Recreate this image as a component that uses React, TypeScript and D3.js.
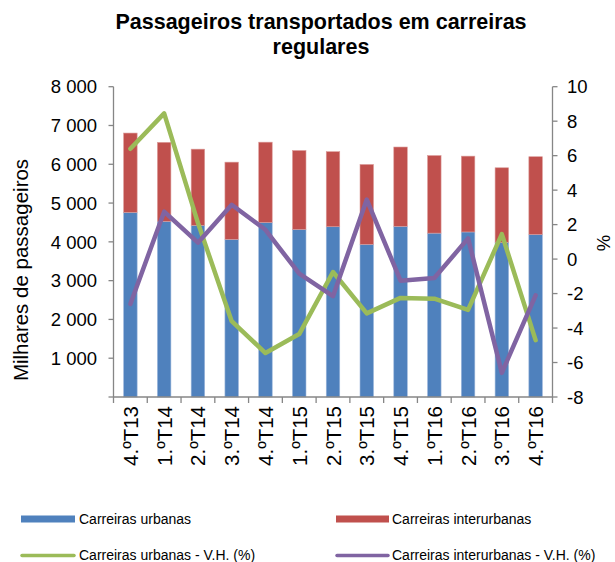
import React from "react";
import * as d3 from "d3";

const categories = ["4.ºT13", "1.ºT14", "2.ºT14", "3.ºT14", "4.ºT14", "1.ºT15", "2.ºT15", "3.ºT15", "4.ºT15", "1.ºT16", "2.ºT16", "3.ºT16", "4.ºT16"];
const urbanas = [4760, 4530, 4425, 4065, 4500, 4320, 4390, 3935, 4400, 4225, 4255, 3985, 4190];
const interurbanas = [2045, 2035, 1965, 1990, 2070, 2035, 1935, 2060, 2045, 2000, 1955, 1925, 2005];
const vhUrbanas = [6.4, 8.45, 2.1, -3.6, -5.45, -4.35, -0.75, -3.15, -2.25, -2.3, -2.95, 1.45, -4.7];
const vhInterurbanas = [-2.6, 2.75, 0.95, 3.15, 1.7, -0.85, -2.15, 3.45, -1.25, -1.1, 1.2, -6.6, -2.1];
const leftTicks = [0, 1000, 2000, 3000, 4000, 5000, 6000, 7000, 8000];
const rightTicks = [-8, -6, -4, -2, 0, 2, 4, 6, 8, 10];

const W = 615, H = 562;
const X0 = 113.5, X1 = 552.5, YT = 86.7, YB = 397;
const C_BLUE = "#4F81BD", C_RED = "#C0504D", C_GREEN = "#9BBB59", C_PURPLE = "#8064A2", C_AXIS = "#868686";
const FONT = "'Liberation Sans', Arial, sans-serif";

export default function App() {
  const x = d3.scaleBand<string>().domain(categories).range([X0, X1]).paddingInner(0.6).paddingOuter(0.3);
  const yL = d3.scaleLinear().domain([0, 8000]).range([YB, YT]);
  const yR = d3.scaleLinear().domain([-8, 10]).range([YB, YT]);
  const step = x.step();
  const cx = (c: string) => (x(c) as number) + x.bandwidth() / 2;
  const lineGen = (vals: number[]) =>
    d3.line<number>().x((_, i) => cx(categories[i])).y((v) => yR(v))(vals) as string;
  const fmt = (v: number) => (v === 0 ? "" : d3.format(",")(v).replace(/,/g, " "));

  return (
    <svg width={W} height={H} style={{ position: "absolute", left: 0, top: 0, background: "#fff" }} fontFamily={FONT}>
      <text x={321} y={29} textAnchor="middle" fontSize={21.5} fontWeight="bold" fill="#000">Passageiros transportados em carreiras</text>
      <text x={321} y={54} textAnchor="middle" fontSize={21.5} fontWeight="bold" fill="#000">regulares</text>

      {/* bars */}
      {categories.map((c, i) => (
        <g key={c}>
          <rect x={x(c)} y={yL(urbanas[i])} width={x.bandwidth()} height={YB - yL(urbanas[i])} fill={C_BLUE} stroke="#9db7dc" strokeWidth={0.6} />
          <rect x={x(c)} y={yL(urbanas[i] + interurbanas[i])} width={x.bandwidth()} height={yL(urbanas[i]) - yL(urbanas[i] + interurbanas[i])} fill={C_RED} stroke="#dc9c9a" strokeWidth={0.6} />
        </g>
      ))}

      {/* axes */}
      <g stroke={C_AXIS} strokeWidth={1.3} fill="none">
        <line x1={X0} y1={YT} x2={X0} y2={YB} />
        <line x1={X1} y1={YT} x2={X1} y2={YB} />
        <line x1={X0} y1={YB} x2={X1} y2={YB} />
        {leftTicks.map((t) => <line key={"l" + t} x1={X0 - 5} x2={X0} y1={yL(t)} y2={yL(t)} />)}
        {rightTicks.map((t) => <line key={"r" + t} x1={X1} x2={X1 + 5} y1={yR(t)} y2={yR(t)} />)}
        {d3.range(categories.length + 1).map((i) => (
          <line key={"x" + i} x1={X0 + i * step} x2={X0 + i * step} y1={YB} y2={YB + 6} />
        ))}
      </g>
      {leftTicks.map((t) => (
        <text key={"lt" + t} x={97} y={yL(t)} dy="0.36em" textAnchor="end" fontSize={18.5} fill="#000">{fmt(t)}</text>
      ))}
      {rightTicks.map((t) => (
        <text key={"rt" + t} x={567} y={yR(t)} dy="0.36em" textAnchor="start" fontSize={18.5} fill="#000">{t}</text>
      ))}
      {categories.map((c) => (
        <text key={"xl" + c} transform={`translate(${cx(c) + 7.5},${YB + 9}) rotate(-90)`} textAnchor="end" fontSize={20.5} fill="#000">{c}</text>
      ))}
      <text transform={`translate(28,270) rotate(-90)`} textAnchor="middle" fontSize={20.5} fill="#000">Milhares de passageiros</text>
      <text transform={`translate(610,243) rotate(-90)`} textAnchor="middle" fontSize={18.5} fill="#000">%</text>

      {/* lines */}
      <path d={lineGen(vhUrbanas)} fill="none" stroke={C_GREEN} strokeWidth={4.5} strokeLinejoin="round" strokeLinecap="round" />
      <path d={lineGen(vhInterurbanas)} fill="none" stroke={C_PURPLE} strokeWidth={4.5} strokeLinejoin="round" strokeLinecap="round" />

      {/* legend */}
      <rect x={21} y={515.5} width={54} height={7} fill={C_BLUE} />
      <text x={79} y={524} fontSize={14} fill="#000">Carreiras urbanas</text>
      <rect x={336} y={515.5} width={53} height={7} fill={C_RED} />
      <text x={392} y={524} fontSize={14} fill="#000">Carreiras interurbanas</text>
      <line x1={22} x2={74} y1={555.5} y2={555.5} stroke={C_GREEN} strokeWidth={3.5} strokeLinecap="round" />
      <text x={79} y={560} fontSize={14} fill="#000">Carreiras urbanas - V.H. (%)</text>
      <line x1={337} x2={388} y1={555.5} y2={555.5} stroke={C_PURPLE} strokeWidth={3.5} strokeLinecap="round" />
      <text x={392} y={560} fontSize={14} fill="#000">Carreiras interurbanas - V.H. (%)</text>
    </svg>
  );
}
